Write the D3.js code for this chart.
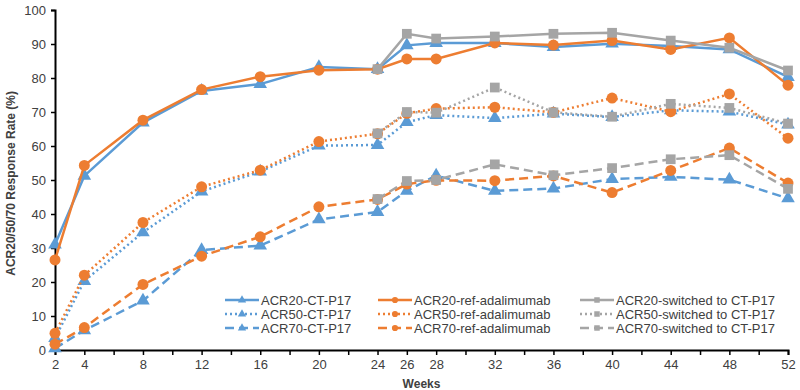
<!DOCTYPE html>
<html>
<head>
<meta charset="utf-8">
<script src="https://cdn.jsdelivr.net/npm/d3@7"></script>
<style>
  body { margin: 0; background: #fff; }
  text { font-family: "Liberation Sans", Arial, sans-serif; }
</style>
</head>
<body>
<div id="vis"></div>
<script>
const width = 800, height = 390;
const margin = { top: 10, right: 12, bottom: 40, left: 55 };

// weeks measured
const weeksFull = [2, 4, 8, 12, 16, 20, 24, 26, 28, 32, 36, 40, 44, 48, 52];
const weeksSwitch = [24, 26, 28, 32, 36, 40, 44, 48, 52];
const xTickLabels = [2, 4, 8, 12, 16, 20, 24, 26, 28, 32, 36, 40, 44, 48, 52];

// CT-P17
const acr20Ct = [31, 51.2, 66.9, 76.2, 78.2, 83.2, 82.6, 89.6, 90.3, 90.3, 89.1, 90.1, 89.4, 88.4, 80.3];
const acr50Ct = [3.5, 20.3, 34.6, 46.6, 52.5, 60.1, 60.3, 67, 69.1, 68.2, 69.5, 68.5, 70.5, 70.1, 66.3];
const acr70Ct = [0.5, 5.8, 14.5, 29.4, 30.7, 38.4, 40.6, 46.8, 51.3, 46.8, 47.5, 50.3, 50.9, 50.1, 44.6];
// ref-adalimumab
const acr20Ref = [26.5, 54.3, 67.6, 76.6, 80.4, 82.3, 82.6, 85.6, 85.6, 90.3, 89.7, 91, 88.4, 91.8, 77.9];
const acr50Ref = [4.9, 22, 37.5, 48, 52.9, 61.3, 63.6, 69.6, 71, 71.4, 69.9, 74.1, 70.1, 75.3, 62.3];
const acr70Ref = [1.7, 6.6, 19.3, 27.6, 33.3, 42.1, 44.3, 48.8, 49.9, 49.8, 51.2, 46.3, 52.8, 59.4, 49.1];
// switched to CT-P17
const acr20Sw = [82.6, 93, 91.6, 92.2, 93, 93.3, 91, 88.9, 82.2];
const acr50Sw = [63.7, 70, 69.8, 77.2, 69.9, 68.6, 72.4, 71.2, 66.6];
const acr70Sw = [44.4, 49.7, 50, 54.6, 51.4, 53.5, 56.1, 57.3, 47.4];

const blue = "#5B9BD5", orange = "#ED7D31", gray = "#A5A5A5";
const solid = null, dotted = "2,3", dashed = "9,5";

const series = [
  { name: "ACR20-CT-P17", x: weeksFull, y: acr20Ct, color: blue, dash: solid, shape: d3.symbolTriangle },
  { name: "ACR50-CT-P17", x: weeksFull, y: acr50Ct, color: blue, dash: dotted, shape: d3.symbolTriangle },
  { name: "ACR70-CT-P17", x: weeksFull, y: acr70Ct, color: blue, dash: dashed, shape: d3.symbolTriangle },
  { name: "ACR20-ref-adalimumab", x: weeksFull, y: acr20Ref, color: orange, dash: solid, shape: d3.symbolCircle },
  { name: "ACR50-ref-adalimumab", x: weeksFull, y: acr50Ref, color: orange, dash: dotted, shape: d3.symbolCircle },
  { name: "ACR70-ref-adalimumab", x: weeksFull, y: acr70Ref, color: orange, dash: dashed, shape: d3.symbolCircle },
  { name: "ACR20-switched to CT-P17", x: weeksSwitch, y: acr20Sw, color: gray, dash: solid, shape: d3.symbolSquare },
  { name: "ACR50-switched to CT-P17", x: weeksSwitch, y: acr50Sw, color: gray, dash: dotted, shape: d3.symbolSquare },
  { name: "ACR70-switched to CT-P17", x: weeksSwitch, y: acr70Sw, color: gray, dash: dashed, shape: d3.symbolSquare }
];

const svg = d3.select("#vis").append("svg")
  .attr("width", width)
  .attr("height", height);

const x = d3.scaleLinear().domain([2, 52]).range([margin.left, width - margin.right]);
const y = d3.scaleLinear().domain([0, 100]).range([height - margin.bottom, margin.top]);

// y axis
const yAxis = svg.append("g")
  .attr("transform", `translate(${margin.left},0)`)
  .call(d3.axisLeft(y).tickValues(d3.range(0, 101, 10)).tickSize(4).tickPadding(5));
yAxis.select(".domain").attr("stroke", "#000").attr("stroke-width", 2);
yAxis.selectAll(".tick line").attr("stroke", "#000").attr("stroke-width", 1.5);
yAxis.selectAll(".tick text").attr("fill", "#404040").style("font-size", "13px");

// x axis: tick marks every 2 weeks, labels only on measured weeks
const xAxis = svg.append("g")
  .attr("transform", `translate(0,${height - margin.bottom})`)
  .call(d3.axisBottom(x).tickValues(d3.range(2, 53, 2)).tickSize(5).tickPadding(5)
    .tickFormat(d => xTickLabels.includes(d) ? d : ""));
xAxis.select(".domain").attr("stroke", "#000").attr("stroke-width", 2);
xAxis.selectAll(".tick line").attr("stroke", "#000").attr("stroke-width", 1.5);
xAxis.selectAll(".tick text").attr("fill", "#404040").style("font-size", "13px");

// axis titles
svg.append("text")
  .attr("x", x(27))
  .attr("y", 388)
  .attr("text-anchor", "middle")
  .style("font-size", "12px")
  .style("font-weight", "bold")
  .attr("fill", "#404040")
  .text("Weeks");

svg.append("text")
  .attr("transform", `translate(15,${y(49)}) rotate(-90)`)
  .attr("text-anchor", "middle")
  .style("font-size", "12px")
  .style("font-weight", "bold")
  .attr("fill", "#404040")
  .text("ACR20/50/70 Response Rate (%)");

// lines and markers
const line = d3.line().x(d => x(d[0])).y(d => y(d[1]));
const sizeOf = s => s === d3.symbolCircle ? 95 : s === d3.symbolSquare ? 95 : 80;

series.forEach(s => {
  const pts = s.x.map((w, i) => [w, s.y[i]]);
  const g = svg.append("g");
  g.append("path")
    .datum(pts)
    .attr("d", line)
    .attr("fill", "none")
    .attr("stroke", s.color)
    .attr("stroke-width", 2.5)
    .attr("stroke-dasharray", s.dash);
  g.selectAll("path.mk")
    .data(pts)
    .join("path")
    .attr("class", "mk")
    .attr("transform", d => `translate(${x(d[0])},${y(d[1])})`)
    .attr("d", d3.symbol().type(s.shape).size(sizeOf(s.shape)))
    .attr("fill", s.color);
});

// legend
const legCols = [225, 378, 580];
const legRows = [300, 314, 328];
series.forEach((s, i) => {
  const col = Math.floor(i / 3), row = i % 3;
  const lx = legCols[col], ly = legRows[row];
  const g = svg.append("g").attr("transform", `translate(${lx},${ly})`);
  g.append("line")
    .attr("x1", 0).attr("x2", 34)
    .attr("y1", 0).attr("y2", 0)
    .attr("stroke", s.color)
    .attr("stroke-width", 2.5)
    .attr("stroke-dasharray", s.dash);
  g.append("path")
    .attr("transform", "translate(17,0)")
    .attr("d", d3.symbol().type(s.shape).size(30))
    .attr("fill", s.color);
  g.append("text")
    .attr("x", 36)
    .attr("y", 0)
    .attr("dy", "0.35em")
    .style("font-size", "13px")
    .attr("fill", "#404040")
    .text(s.name);
});
</script>
</body>
</html>
